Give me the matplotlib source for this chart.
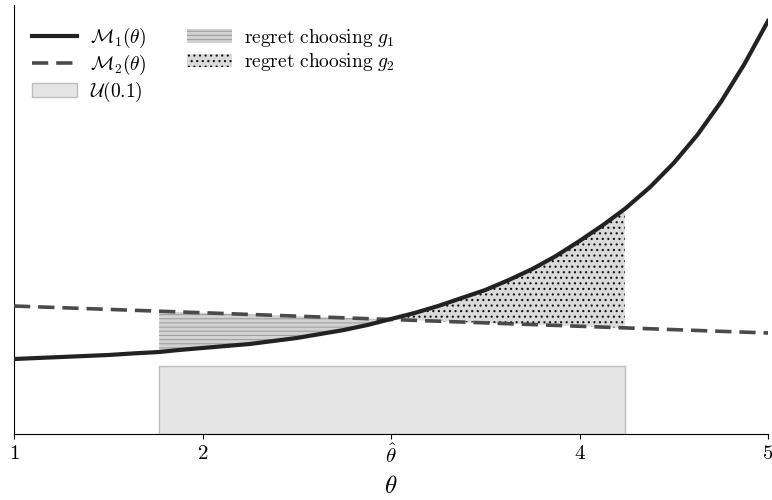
import numpy as np
import matplotlib.pyplot as plt

plt.rcParams['mathtext.fontset'] = 'cm'
plt.rcParams['hatch.linewidth'] = 0.8

# readings from the picture (y in arbitrary units)
theta = [1.0, 1.125, 1.25, 1.375, 1.5, 1.625, 1.77, 1.875, 2.0, 2.125,
         2.25, 2.375, 2.5, 2.625, 2.75, 2.875, 3.0, 3.125, 3.25, 3.375,
         3.5, 3.625, 3.75, 3.875, 4.0, 4.125, 4.24, 4.375, 4.5, 4.625,
         4.75, 4.875, 5.0]
m1 = [75, 76, 77, 78, 79, 80.5, 82, 84, 86, 88,
      90, 93, 96, 100, 104, 109, 115, 121, 128, 136,
      144, 154, 165, 178, 193, 209, 225, 247, 271, 299,
      332, 370, 413]
m2_theta = [1.0, 5.0]
m2_vals = [128, 101]

theta_hat = 3.0
u_lo, u_hi = 1.77, 4.24
u_height = 68

xticks = [1, 2, 3, 4, 5]
xticklabels = [r'$1$', r'$2$', r'$\hat{\theta}$', r'$4$', r'$5$']


def main() -> None:
    th = np.array(theta)
    m1_arr = np.array(m1)
    m2_arr = np.interp(th, m2_theta, m2_vals)

    fig = plt.figure(figsize=(7.72, 5.0), dpi=100)
    ax = fig.add_axes([14 / 772, 66 / 500, 754 / 772, 429 / 500])

    ax.fill_between([u_lo, u_hi], 0, u_height, facecolor='#e5e5e5',
                    edgecolor='#bdbdbd', linewidth=1.0, zorder=1,
                    label=r'$\mathcal{U}(0.1)$')

    left = (th >= u_lo) & (th <= theta_hat)
    right = (th >= theta_hat) & (th <= u_hi)
    ax.fill_between(th, m1_arr, m2_arr, where=left, facecolor='#d2d2d2',
                    edgecolor='#a0a0a0', hatch='----', linewidth=0, zorder=2,
                    label=r'$\mathrm{regret\ choosing}\ g_1$')
    ax.fill_between(th, m1_arr, m2_arr, where=right, facecolor='#dadada',
                    edgecolor='#111111', hatch='...', linewidth=0, zorder=2,
                    label=r'$\mathrm{regret\ choosing}\ g_2$')

    ax.plot(th, m1_arr, color='#222222', lw=3.0, zorder=4,
            label=r'$\mathcal{M}_1(\theta)$', solid_joinstyle='round')
    ax.plot(m2_theta, m2_vals, color='#4a4a4a', lw=2.6, zorder=3,
            dashes=(4.5, 2.2), label=r'$\mathcal{M}_2(\theta)$')

    handles, labels = ax.get_legend_handles_labels()
    order = [3, 4, 0, 1, 2]
    ax.legend([handles[i] for i in order], [labels[i] for i in order],
              loc='upper left', ncol=2, frameon=False, fontsize=14,
              bbox_to_anchor=(0.001, 0.993), handlelength=2.3,
              handletextpad=0.65, labelspacing=0.15, columnspacing=2.1)

    ax.set_xlim(1, 5)
    ax.set_ylim(0, 429)
    ax.set_xticks(xticks)
    ax.set_xticklabels(xticklabels, fontsize=15)
    ax.tick_params(axis='x', direction='out', length=3.5, pad=3)
    ax.set_yticks([])
    ax.spines['top'].set_visible(False)
    ax.spines['right'].set_visible(False)
    ax.set_xlabel(r'$\theta$', fontsize=18, labelpad=5)

    fig.savefig('out.png', dpi=100)
    plt.close(fig)


if __name__ == '__main__':
    main()
